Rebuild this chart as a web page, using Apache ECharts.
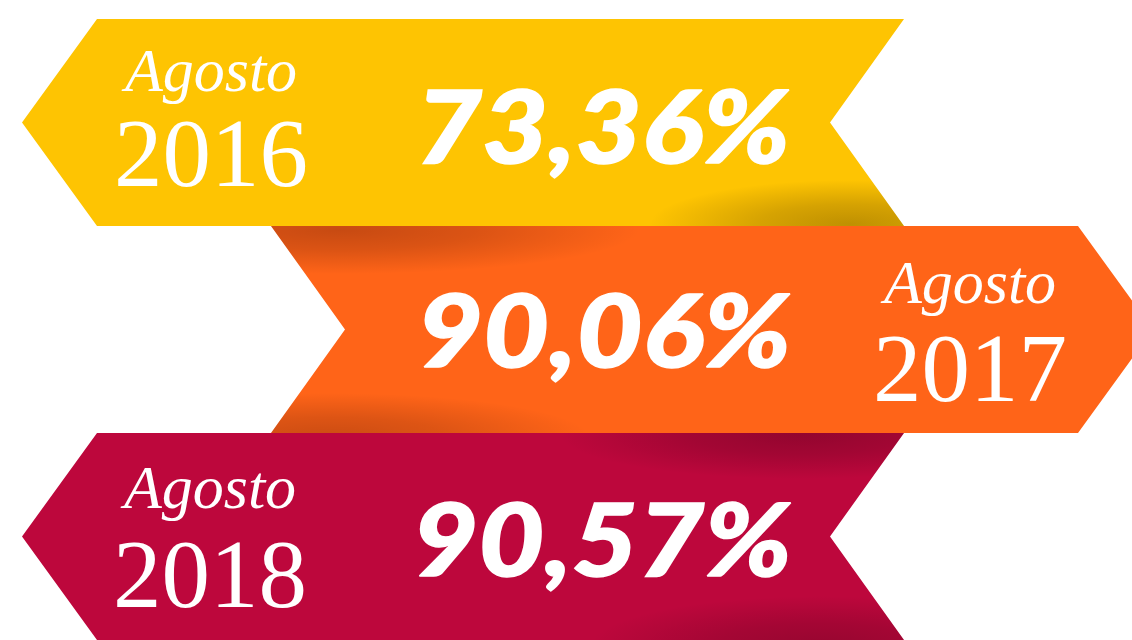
<!DOCTYPE html>
<html>
<head>
<meta charset="utf-8">
<script src="https://cdn.jsdelivr.net/npm/echarts@6/dist/echarts.min.js"></script>
<style>
html,body{margin:0;padding:0;background:#fff;}
#chart{width:1132px;height:640px;}
</style>
</head>
<body>
<div id="chart"></div>
<script>
// ---- data ----
var categories = ['Agosto 2016', 'Agosto 2017', 'Agosto 2018'];
var months = ['Agosto', 'Agosto', 'Agosto'];
var years = ['2016', '2017', '2018'];
var values = [73.36, 90.06, 90.57];

// ---- styling / layout ----
var colors = ['#FEC402', '#FF6418', '#BD073C'];
var pointLeft = [true, false, true];
// vertical offsets (from banner centre) for month, year and percentage texts
var monthDy = [-48, -43, -45];
var yearDy = [38, 46, 45];
var pctDy = [8, 5, 7];
var labelCx = [211, 970, 210];
var pctCx = [603, 604, 602];
// shadows per banner: [centerX, edge ('top'|'bottom'), offsetY, rx, ry, alpha, rgb]
var shadows = [
  [[850, 'bottom', -2, 200, 44, 0.32, '60,35,0']],
  [[340, 'top', 4, 300, 44, 0.26, '40,0,0'], [330, 'bottom', 4, 260, 44, 0.24, '40,0,0']],
  [[800, 'top', 2, 240, 44, 0.26, '30,0,10'], [820, 'bottom', 6, 230, 50, 0.24, '30,0,10']]
];

function fmt(v) { return v.toFixed(2).replace('.', ',') + '%'; }

function bannerPoints(i, top, bot, cy) {
  if (pointLeft[i]) {
    return [[97, top], [904, top], [830, cy], [904, bot], [97, bot], [22, cy]];
  }
  return [[271, top], [1078, top], [1153, cy], [1078, bot], [271, bot], [345, cy]];
}

function renderItem(params, api) {
  var i = api.value(0);
  var c = api.coord([0, i]);
  var cy = c[1];
  var h = api.size([0, 1])[1];
  var top = cy - h / 2, bot = cy + h / 2;
  var pts = bannerPoints(i, top, bot, cy);
  var children = [{
    type: 'polygon',
    shape: { points: pts },
    style: { fill: colors[i] }
  }];
  shadows[i].forEach(function (s) {
    var gx = s[0];
    var gy = (s[1] === 'top' ? top : bot) + s[2];
    var rx = s[3], ry = s[4], k = ry / rx;
    var local = pts.map(function (p) { return [p[0], (p[1] - gy) / k + gy]; });
    children.push({
      type: 'polygon',
      originX: 0, originY: gy, scaleY: k,
      shape: { points: local },
      style: {
        fill: {
          type: 'radial', x: gx, y: gy, r: rx, global: true,
          colorStops: [
            { offset: 0, color: 'rgba(' + s[6] + ',' + s[5] + ')' },
            { offset: 0.45, color: 'rgba(' + s[6] + ',' + (s[5] * 0.65) + ')' },
            { offset: 1, color: 'rgba(' + s[6] + ',0)' }
          ]
        }
      },
      silent: true
    });
  });
  children.push({
    type: 'text',
    style: {
      text: months[i], x: labelCx[i], y: cy + monthDy[i], fill: '#fff',
      fontSize: 62, fontFamily: '"Liberation Serif", serif', fontStyle: 'italic',
      align: 'center', verticalAlign: 'middle'
    }
  });
  children.push({
    type: 'text',
    style: {
      text: years[i], x: labelCx[i], y: cy + yearDy[i], fill: '#fff',
      fontSize: 97, fontFamily: '"Liberation Serif", serif',
      align: 'center', verticalAlign: 'middle'
    }
  });
  children.push({
    type: 'text',
    x: pctCx[i], y: cy + pctDy[i], scaleX: 1.13,
    style: {
      text: fmt(values[i]), x: 0, y: 0, fill: '#fff',
      fontSize: 101, fontFamily: 'Lato, "Open Sans", sans-serif', fontWeight: 900, fontStyle: 'italic',
      align: 'center', verticalAlign: 'middle',
      stroke: '#fff', lineWidth: 1.5
    }
  });
  return { type: 'group', children: children };
}

var chart = echarts.init(document.getElementById('chart'), null, { renderer: 'canvas' });
chart.setOption({
  animation: false,
  backgroundColor: '#ffffff',
  grid: { left: 0, top: 19, width: 1132, height: 627 },
  xAxis: { type: 'value', min: 0, max: 1132, show: false },
  yAxis: { type: 'category', data: categories, inverse: true, show: false },
  series: [{
    type: 'custom',
    clip: false,
    renderItem: renderItem,
    encode: { y: 0 },
    data: values.map(function (v, i) { return [i, v]; })
  }]
});
</script>
</body>
</html>
